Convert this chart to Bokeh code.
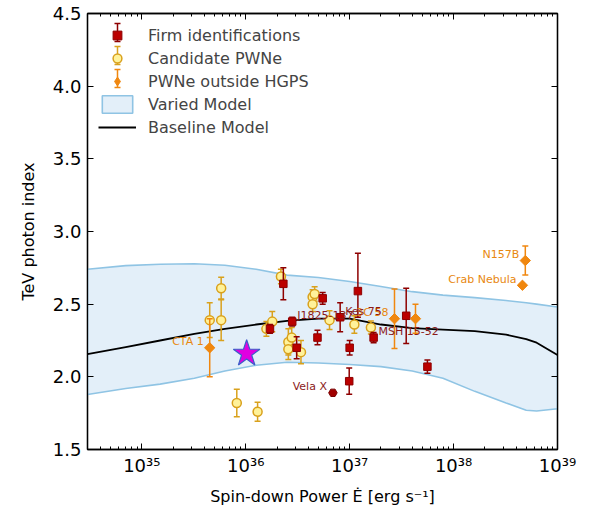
import numpy as np
from bokeh.plotting import figure
from bokeh.models import (Range1d, FixedTicker, LogAxis, LinearAxis, CustomJSTickFormatter,
                          PrintfTickFormatter, Legend, LegendItem, Arrow, TeeHead)
from bokeh.embed import file_html
from bokeh.resources import INLINE
from bokeh.core.properties import value

FONT = "DejaVu Sans"

# ---------------- data ----------------
# Firmly identified PWNe: spin-down power [erg/s], TeV photon index, errors (low, high)
firm_edot = [1.71e36, 2.3e36, 2.8e36, 3.09e36, 4.9e36, 5.5e36, 8.1e36,
             1.0e37, 9.9e36, 1.2e37, 1.7e37, 3.5e37, 5.6e37]
firm_index = [2.33, 2.64, 2.38, 2.20, 2.27, 2.54, 2.41,
              2.20, 1.97, 2.59, 2.27, 2.42, 2.07]
firm_err_lo = [0.03, 0.11, 0.03, 0.075, 0.05, 0.04, 0.10,
               0.05, 0.09, 0.18, 0.035, 0.19, 0.045]
firm_err_hi = [0.03, 0.11, 0.03, 0.075, 0.05, 0.04, 0.10,
               0.05, 0.09, 0.26, 0.035, 0.19, 0.045]

# Vela X
vela_edot = [6.9e36]
vela_index = [1.89]

# Candidate PWNe
cand_edot = [4.5e35, 5.8e35, 5.8e35, 8.2e35, 1.3e36, 1.58e36, 1.8e36, 2.18e36,
             2.57e36, 2.57e36, 2.77e36, 3.4e36, 4.4e36, 4.4e36, 4.6e36,
             6.4e36, 1.11e37, 1.6e37]
cand_index = [2.39, 2.61, 2.39, 1.82, 1.76, 2.33, 2.38, 2.69,
              2.24, 2.19, 2.27, 2.17, 2.55, 2.50, 2.57,
              2.39, 2.36, 2.34]
cand_err = [0.12, 0.075, 0.14, 0.095, 0.065, 0.05, 0.07, 0.05,
            0.09, 0.07, 0.07, 0.08, 0.05, 0.05, 0.05,
            0.065, 0.06, 0.045]

# PWNe outside the HGPS
out_edot = [4.5e35, 2.7e37, 4.3e37, 4.6e38, 4.9e38]
out_index = [2.20, 2.40, 2.40, 2.63, 2.80]
out_err = [0.20, 0.205, 0.10, 0.0, 0.10]

# Marked source (star)
star_edot = [1.02e36]
star_index = [2.16]

# Model curves
band_edot = [3.0e34, 7.0e34, 1.5e35, 3.2e35, 6.3e35, 1.26e36, 2.5e36, 5.0e36,
             1.0e37, 2.0e37, 4.0e37, 7.9e37, 1.6e38, 3.2e38, 5.0e38, 6.3e38, 1.0e39]
band_upper = [2.74, 2.765, 2.775, 2.778, 2.768, 2.74, 2.70, 2.684,
              2.656, 2.622, 2.586, 2.562, 2.545, 2.525, 2.51, 2.50, 2.48]
band_lower = [1.878, 1.92, 1.95, 1.99, 2.04, 2.08, 2.10, 2.095,
              2.085, 2.07, 2.04, 1.99, 1.90, 1.82, 1.77, 1.765, 1.78]
baseline = [2.156, 2.205, 2.25, 2.295, 2.33, 2.36, 2.385, 2.40,
            2.40, 2.36, 2.335, 2.325, 2.315, 2.29, 2.26, 2.235, 2.15]

# Source labels
label_text = ["CTA 1", "J1825-137", "Kes 75", "3C 58", "MSH 15-52", "Vela X",
              "Crab Nebula", "N157B"]
label_edot = [4.5e35, 2.8e36, 8.1e36, 2.7e37, 1.7e37, 6.9e36, 4.6e38, 4.9e38]
label_index = [2.20, 2.38, 2.41, 2.40, 2.27, 1.89, 2.63, 2.80]
label_side = ["left", "right", "right", "left", "right", "left", "left", "left"]
label_group = ["out", "firm", "firm", "out", "firm", "firm", "out", "out"]

x_major = [1e35, 1e36, 1e37, 1e38, 1e39]
y_major = [1.5, 2.0, 2.5, 3.0, 3.5, 4.0, 4.5]

# ---------------- styles ----------------
FIRM_FILL = "#bb0000"
FIRM_LINE = "#8e0000"
CAND_FILL = "#fff29a"
CAND_LINE = "#d9a11c"
OUT_COL = "#f0870f"
LABEL_FIRM = "#8b1a1a"
LABEL_OUT = "#e8870f"
BAND_FILL = "#e3eff9"
BAND_LINE = "#8fc4e4"

FRAME_H = 439          # plot-area height in px
LEG_MARGIN = 11
LEG_GLYPH_H = 22
LEG_SPACING = 1
LEG_GLYPH_W = 38

p = figure(width=594, height=508, x_axis_type="log",
           x_range=Range1d(3e34, 1e39), y_range=Range1d(1.5, 4.5),
           output_backend="svg", toolbar_location=None,
           min_border_left=87, min_border_right=37, min_border_top=13, min_border_bottom=56)
p.xgrid.visible = False
p.ygrid.visible = False
p.outline_line_color = "black"
p.outline_line_width = 1.3
p.background_fill_color = "white"
p.border_fill_color = "white"

# ---- model band and baseline ----
band_x = list(band_edot) + list(band_edot[::-1])
band_y = list(band_upper) + list(band_lower[::-1])
band_r = p.patch(band_x, band_y, fill_color=BAND_FILL, line_color=BAND_LINE, line_width=1.6)
base_r = p.line(band_edot, baseline, line_color="black", line_width=1.8)


def error_bars(x, y, lo, hi, color):
    x = np.asarray(x, float)
    y = np.asarray(y, float)
    lo = np.asarray(lo, float)
    hi = np.asarray(hi, float)
    keep = (lo + hi) > 0
    x, y, lo, hi = x[keep], y[keep], lo[keep], hi[keep]
    p.segment(x0=x, y0=y - lo, x1=x, y1=y + hi, line_color=color, line_width=1.5)
    p.scatter(x=np.concatenate([x, x]), y=np.concatenate([y - lo, y + hi]),
              marker="dash", size=6, line_color=color, line_width=1.5)


# candidates
error_bars(cand_edot, cand_index, cand_err, cand_err, CAND_LINE)
cand_r = p.scatter(cand_edot, cand_index, marker="circle", size=9,
                   fill_color=CAND_FILL, line_color=CAND_LINE, line_width=1.5)

# firm identifications
error_bars(firm_edot, firm_index, firm_err_lo, firm_err_hi, FIRM_LINE)
firm_r = p.scatter(firm_edot, firm_index, marker="square", size=7.5,
                   fill_color=FIRM_FILL, line_color=FIRM_LINE, line_width=1)
p.scatter(vela_edot, vela_index, marker="hex", size=8.5,
          fill_color="#a00000", line_color="#7a0000", line_width=1)

# outside HGPS
error_bars(out_edot, out_index, out_err, out_err, OUT_COL)
p.scatter(out_edot, out_index, marker="square", angle=np.pi / 4, size=7.3,
          fill_color=OUT_COL, line_color=OUT_COL, line_width=1)

# star
p.scatter(star_edot, star_index, marker="star", size=28,
          fill_color="#e000e0", line_color="#3b5fc9", line_width=1.2)

# labels
for side in ("left", "right"):
    for grp, col in (("firm", LABEL_FIRM), ("out", LABEL_OUT)):
        idx = [i for i in range(len(label_text)) if label_side[i] == side and label_group[i] == grp]
        if not idx:
            continue
        p.text(x=[label_edot[i] for i in idx], y=[label_index[i] for i in idx],
               text=[label_text[i] for i in idx],
               x_offset=-6 if side == "left" else 5, y_offset=-6,
               text_align="right" if side == "left" else "left",
               text_baseline="middle", text_color=col,
               text_font=value(FONT), text_font_size="11px")

# ---- legend ----
# diamond key for the legend (legend markers are drawn unrotated)
nan = [np.nan]
out_key = p.scatter(nan, nan, marker="diamond", size=9,
                    fill_color=OUT_COL, line_color=OUT_COL, line_width=1)

# error-bar strokes behind the first three legend markers
row_step = LEG_GLYPH_H + LEG_SPACING
for i, col in enumerate([FIRM_LINE, CAND_LINE, OUT_COL]):
    yc = FRAME_H - (LEG_MARGIN + LEG_GLYPH_H / 2 + i * row_step)
    xc = LEG_MARGIN + LEG_GLYPH_W / 2
    p.add_layout(Arrow(x_start=xc, y_start=yc - 9, x_end=xc, y_end=yc + 9,
                       start_units="screen", end_units="screen",
                       line_color=col, line_width=1.5,
                       start=TeeHead(size=6, line_color=col, line_width=1.5),
                       end=TeeHead(size=6, line_color=col, line_width=1.5)))

legend = Legend(items=[
    LegendItem(label="Firm identifications", renderers=[firm_r]),
    LegendItem(label="Candidate PWNe", renderers=[cand_r]),
    LegendItem(label="PWNe outside HGPS", renderers=[out_key]),
    LegendItem(label="Varied Model", renderers=[band_r]),
    LegendItem(label="Baseline Model", renderers=[base_r]),
], location="top_left", margin=LEG_MARGIN, padding=0, spacing=LEG_SPACING,
    glyph_width=LEG_GLYPH_W, glyph_height=LEG_GLYPH_H, label_height=20, label_standoff=12,
    label_text_font=FONT, label_text_font_size="16px",
    border_line_color=None, background_fill_alpha=0)
p.add_layout(legend)

# ---- axes ----
x_minor = [m * 10.0 ** e for e in range(34, 39) for m in range(2, 10)
           if 3e34 <= m * 10.0 ** e <= 1e39]
xticker = FixedTicker(ticks=x_major, minor_ticks=x_minor)
yticker = FixedTicker(ticks=y_major)

sup_fmt = CustomJSTickFormatter(code="""
const sup = {"0":"\u2070","1":"\u00b9","2":"\u00b2","3":"\u00b3","4":"\u2074",
             "5":"\u2075","6":"\u2076","7":"\u2077","8":"\u2078","9":"\u2079","-":"\u207b"};
const e = Math.round(Math.log10(tick));
return "10" + String(e).split("").map(c => sup[c]).join("");
""")
blank_fmt = CustomJSTickFormatter(code="return '';")


def style_axis(ax):
    ax.axis_line_color = "black"
    ax.axis_line_width = 1.3
    ax.major_tick_in = 6
    ax.major_tick_out = 0
    ax.minor_tick_in = 3
    ax.minor_tick_out = 0
    ax.major_tick_line_color = "black"
    ax.minor_tick_line_color = "black"
    ax.major_label_text_font = FONT
    ax.major_label_text_font_size = "18px"
    ax.major_label_text_color = "black"
    ax.axis_label_text_font = FONT
    ax.axis_label_text_font_size = "16px"
    ax.axis_label_text_font_style = "normal"
    ax.axis_label_text_color = "black"


xa = p.xaxis[0]
xa.ticker = xticker
xa.formatter = sup_fmt
xa.axis_label = "Spin-down Power \u0116 [erg s\u207b\u00b9]"
xa.major_label_standoff = 5
xa.axis_label_standoff = 8
style_axis(xa)

ya = p.yaxis[0]
ya.ticker = yticker
ya.formatter = PrintfTickFormatter(format="%.1f")
ya.axis_label = "TeV photon index"
ya.major_label_standoff = 6
ya.axis_label_standoff = 12
style_axis(ya)

top = LogAxis(ticker=xticker, formatter=blank_fmt)
style_axis(top)
top.major_label_standoff = 0
p.add_layout(top, "above")

right = LinearAxis(ticker=yticker, formatter=blank_fmt)
style_axis(right)
right.major_label_standoff = 0
p.add_layout(right, "right")

open("out.html", "w").write(file_html(p, INLINE))
